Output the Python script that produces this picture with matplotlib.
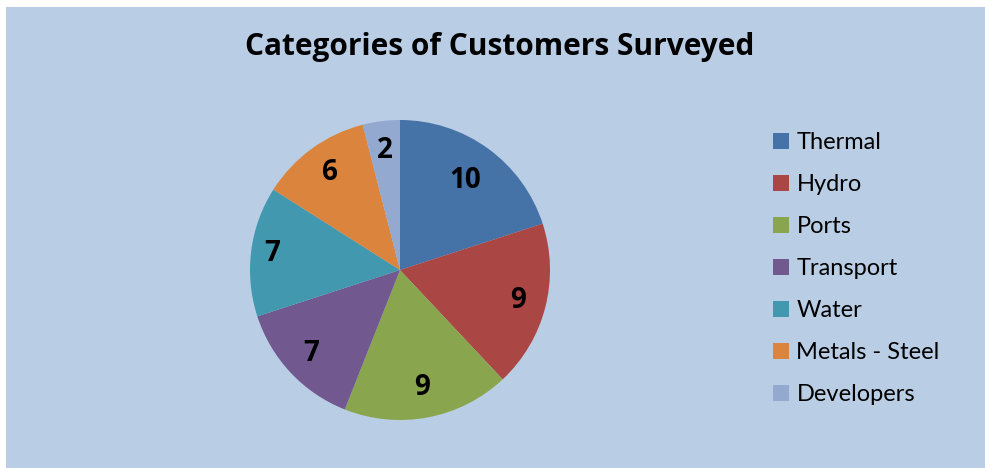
import matplotlib
matplotlib.use('Agg')
import matplotlib.pyplot as plt
from matplotlib.patches import Rectangle
import numpy as np

# Survey counts by customer category
categories = ['Thermal', 'Hydro', 'Ports', 'Transport', 'Water', 'Metals - Steel', 'Developers']
counts = [10, 9, 9, 7, 7, 6, 2]
colors = ['#4572A7', '#AA4643', '#89A54E', '#71588F', '#4198AF', '#DB843D', '#93A9CF']

W, H = 985, 468
fig = plt.figure(figsize=(W / 100, H / 100), dpi=100, facecolor='white')

# Chart area background
fig.patches.append(Rectangle((6 / W, 0), 1 - 6 / W, 1 - 7 / H, transform=fig.transFigure,
                             facecolor='#B9CDE5', edgecolor='none', zorder=-1))

fig.text(500 / W, 1 - 47 / H, 'Categories of Customers Surveyed', ha='center', va='center',
         fontsize=21.5, fontweight='bold', family='Open Sans')

# Pie: centre (400, 270), radius 150 px
ax = fig.add_axes([250 / W, (H - 420) / H, 300 / W, 300 / H])
wedges, _ = ax.pie(counts, colors=colors, startangle=90, counterclock=False, radius=1,
                   wedgeprops=dict(linewidth=0))
ax.set_xlim(-1, 1)
ax.set_ylim(-1, 1)
ax.set_aspect('equal')
ax.axis('off')

label_r = [0.74, 0.81, 0.80, 0.81, 0.86, 0.80, 0.80]
for w, n, r in zip(wedges, counts, label_r):
    ang = np.deg2rad((w.theta1 + w.theta2) / 2)
    ax.text(r * np.cos(ang), r * np.sin(ang), str(n), ha='center', va='center',
            fontsize=20, fontweight='bold', family='Open Sans')

# Legend
leg = fig.legend(wedges, categories, loc='upper left', bbox_to_anchor=(752 / W, 1 - 111 / H),
                 frameon=False, prop={'family': 'Lato', 'size': 17},
                 handlelength=0.68, handleheight=0.68, handletextpad=0.3, labelspacing=0.89)

fig.savefig('out.png', dpi=100, facecolor='white')
